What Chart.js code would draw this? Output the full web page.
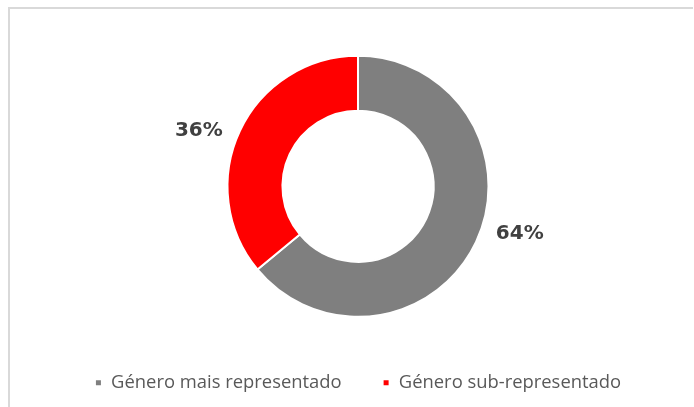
<!DOCTYPE html>
<html>
<head>
<meta charset="utf-8">
<script src="https://cdn.jsdelivr.net/npm/chart.js@4.4.0/dist/chart.umd.min.js"></script>
<style>
  html, body { margin: 0; padding: 0; background: #fff; overflow: hidden; }
  #wrap { position: relative; width: 694px; height: 407px; overflow: hidden; }
  #frame { position: absolute; left: 8px; top: 7px; width: 685px; height: 400px;
           border-top: 2px solid #d9d9d9; border-left: 2px solid #d9d9d9; border-right: 0; border-bottom: 0; box-sizing: border-box; }
  canvas { position: absolute; left: 0; top: 0; }
</style>
</head>
<body>
<div id="wrap">
  <div id="frame"></div>
  <canvas id="c" width="694" height="407"></canvas>
</div>
<script>
const categories = ["Género mais representado", "Género sub-representado"];
const values = [64, 36];
const valueLabels = ["64%", "36%"];
const colors = ["#7f7f7f", "#ff0000"];
const labelAngleShift = [-9, -6]; // degrees, best-fit label placement
const labelOffset = 38;

const pctLabels = {
  id: 'pctLabels',
  afterDatasetsDraw(chart) {
    const ctx = chart.ctx;
    const meta = chart.getDatasetMeta(0);
    ctx.save();
    ctx.font = 'bold 20px "DejaVu Sans"';
    ctx.fillStyle = '#404040';
    ctx.textAlign = 'center';
    ctx.textBaseline = 'middle';
    meta.data.forEach((arc, i) => {
      const p = arc.getProps(['x', 'y', 'startAngle', 'endAngle', 'outerRadius'], true);
      const mid = (p.startAngle + p.endAngle) / 2 + labelAngleShift[i] * Math.PI / 180;
      const r = p.outerRadius + labelOffset;
      ctx.fillText(valueLabels[i], p.x + Math.cos(mid) * r, p.y + Math.sin(mid) * r);
    });
    ctx.restore();
  }
};

new Chart(document.getElementById('c'), {
  type: 'doughnut',
  data: {
    labels: categories,
    datasets: [{
      data: values,
      backgroundColor: colors,
      borderColor: '#ffffff',
      borderWidth: 2,
      radius: 130.5,
      cutout: '57.9%'
    }]
  },
  options: {
    responsive: false,
    animation: false,
    events: [],
    layout: { padding: { left: 22, right: 0, top: 40, bottom: 5 } },
    plugins: {
      tooltip: { enabled: false },
      legend: {
        position: 'bottom',
        labels: {
          boxWidth: 7,
          boxHeight: 7,
          padding: 41,
          color: '#595959',
          font: { family: '"Open Sans"', size: 18.4 }
        }
      }
    }
  },
  plugins: [pctLabels]
});
</script>
</body>
</html>
